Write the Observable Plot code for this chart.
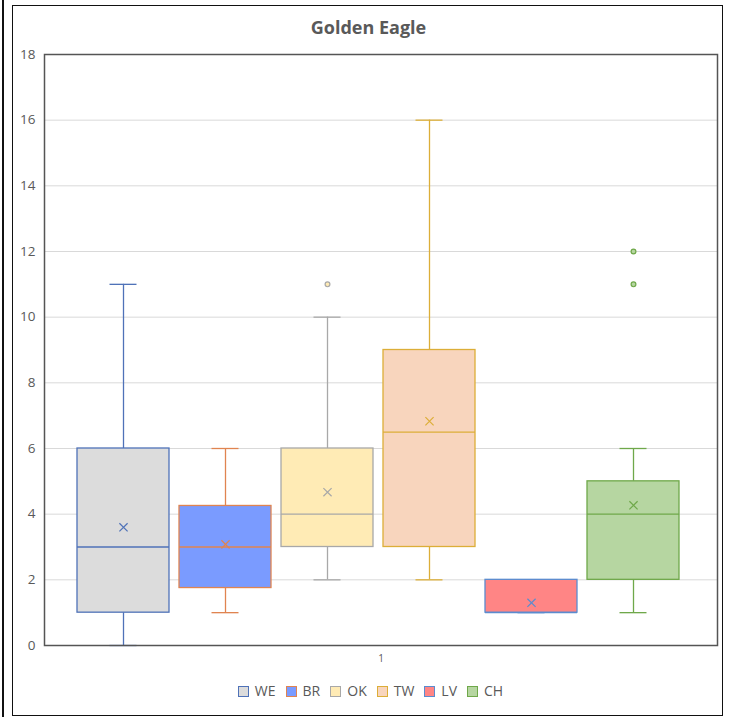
<!DOCTYPE html>
<html>
<head>
<meta charset="utf-8">
<script src="https://cdn.jsdelivr.net/npm/d3@7"></script>
<script src="https://cdn.jsdelivr.net/npm/@observablehq/plot@0.6"></script>
<style>
  html, body { margin: 0; padding: 0; background: #fff; }
  body { width: 731px; height: 719px; position: relative; overflow: hidden; font-family: "Open Sans", sans-serif; }
  #leftline { position: absolute; left: 2px; top: 0; width: 2px; height: 717px; background: #111; }
  #outer { position: absolute; left: 12px; top: 5px; width: 711px; height: 711px; border: 1.5px solid #111; box-sizing: border-box; }
  #title { position: absolute; left: 0; top: 15px; width: 737px; text-align: center; font-size: 18px; font-weight: bold; color: #595959; }
  #chart { position: absolute; left: 0; top: 45px; }
  #legend { position: absolute; left: 0; top: 681px; width: 741px; text-align: center; font-size: 14px; color: #595959; }
  .item { display: inline-block; margin: 0 5px; }
  .sw { display: inline-block; width: 9px; height: 9px; border: 1.3px solid; vertical-align: -1px; margin-right: 6px; }
</style>
</head>
<body>
<div id="leftline"></div>
<div id="outer"></div>
<div id="title">Golden Eagle</div>
<div id="chart"></div>
<div id="legend"></div>
<script>
const series = ["WE", "BR", "OK", "TW", "LV", "CH"];
const whiskerLow = [0, 1, 2, 2, 1, 1];
const q1 = [1, 1.75, 3, 3, 1, 2];
const median = [3, 3, 4, 6.5, 1, 4];
const q3 = [6, 4.25, 6, 9, 2, 5];
const whiskerHigh = [11, 6, 10, 16, 2, 6];
const mean = [3.6, 3.08, 4.67, 6.83, 1.3, 4.27];
const outlierSeries = ["OK", "CH", "CH"];
const outlierValues = [11, 11, 12];
const fillColors = ["#dcdcdc", "#7a9bff", "#ffebb5", "#f8d5bd", "#ff8585", "#b6d6a1"];
const strokeColors = ["#4f72b8", "#e08450", "#a8a8a8", "#dcae38", "#5b8ccf", "#6fa84a"];
const yTicks = [0, 2, 4, 6, 8, 10, 12, 14, 16, 18];
const xCategoryLabel = "1";

const boxes = series.map((s, i) => ({
  series: s, low: whiskerLow[i], q1: q1[i], median: median[i], q3: q3[i],
  high: whiskerHigh[i], mean: mean[i], fill: fillColors[i], stroke: strokeColors[i]
}));
const outliers = outlierSeries.map((s, i) => {
  const k = series.indexOf(s);
  return { series: s, value: outlierValues[i], fill: fillColors[k], stroke: strokeColors[k] };
});

const plot = Plot.plot({
  width: 731,
  height: 630,
  marginTop: 9,
  marginBottom: 30,
  marginLeft: 44,
  marginRight: 14,
  style: { fontFamily: "Open Sans, sans-serif", fontSize: "13.5px", color: "#595959", background: "transparent" },
  x: { domain: series, range: [76, 680], paddingInner: 0.1, paddingOuter: 0, axis: null },
  y: { domain: [0, 18], ticks: yTicks, tickSize: 0, tickPadding: 9, label: null },
  color: { type: "identity" },
  marks: [
    Plot.gridY(yTicks, { stroke: "#d9d9d9", strokeOpacity: 1, strokeWidth: 1 }),
    Plot.axisY(yTicks, { tickSize: 0, tickPadding: 9, label: null, fill: "#595959", fontSize: 13.5 }),
    Plot.ruleX(boxes, { x: "series", y1: "low", y2: "q1", stroke: "stroke", strokeWidth: 1.3 }),
    Plot.ruleX(boxes, { x: "series", y1: "q3", y2: "high", stroke: "stroke", strokeWidth: 1.3 }),
    Plot.tickY(boxes, { x: "series", y: "low", stroke: "stroke", strokeWidth: 1.3, insetLeft: 32.5, insetRight: 32.5 }),
    Plot.tickY(boxes, { x: "series", y: "high", stroke: "stroke", strokeWidth: 1.3, insetLeft: 32.5, insetRight: 32.5 }),
    Plot.barY(boxes, { x: "series", y1: "q1", y2: "q3", fill: "fill", stroke: "stroke", strokeWidth: 1.3 }),
    Plot.tickY(boxes, { x: "series", y: "median", stroke: "stroke", strokeWidth: 1.3 }),
    Plot.dot(boxes, { x: "series", y: "mean", symbol: "times", r: 3.8, stroke: "stroke", strokeWidth: 1.2 }),
    Plot.dot(outliers, { x: "series", y: "value", r: 2.4, fill: "fill", stroke: "stroke", strokeWidth: 1.2 }),
    Plot.text([xCategoryLabel], { text: d => d, frameAnchor: "bottom", dy: 16, fontSize: 10, fill: "#595959" }),
    Plot.frame({ stroke: "#555", strokeWidth: 1.5 })
  ]
});
document.getElementById("chart").appendChild(plot);

const legend = document.getElementById("legend");
series.forEach((s, i) => {
  const item = document.createElement("span");
  item.className = "item";
  const sw = document.createElement("span");
  sw.className = "sw";
  sw.style.background = fillColors[i];
  sw.style.borderColor = strokeColors[i];
  item.appendChild(sw);
  item.appendChild(document.createTextNode(s));
  legend.appendChild(item);
});
</script>
</body>
</html>
